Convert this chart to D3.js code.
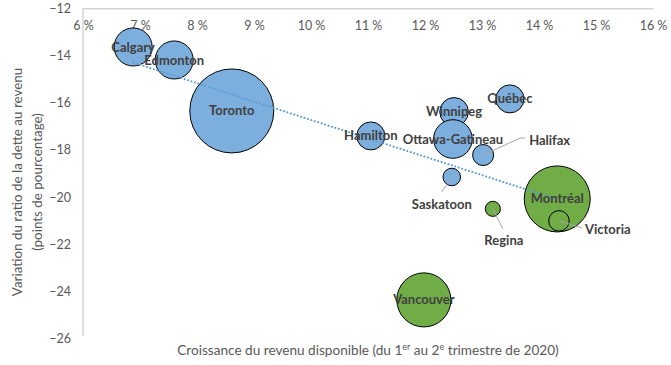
<!DOCTYPE html>
<html>
<head>
<meta charset="utf-8">
<script src="https://cdn.jsdelivr.net/npm/d3@7"></script>
<style>
  body { margin: 0; background: #fff; }
  text { font-family: Lato, "Open Sans", sans-serif; }
</style>
</head>
<body>
<div id="graphique"></div>
<script>
// données
var villes = ["Calgary", "Edmonton", "Toronto", "Hamilton", "Winnipeg", "Ottawa-Gatineau", "Québec",
    "Halifax", "Saskatoon", "Regina", "Montréal", "Victoria", "Vancouver"];
var croissanceRevenu = [6.88, 7.60, 8.61, 11.05, 12.51, 12.49, 13.49, 13.02, 12.47, 13.19, 14.32, 14.35, 11.98];
var variationRatio = [-13.64, -14.19, -16.35, -17.41, -16.39, -17.54, -15.84, -18.22, -19.15, -20.50, -20.08, -21.01, -24.36];
var taille = [1.27, 1.27, 6.2, 0.69, 0.72, 1.31, 0.69, 0.39, 0.27, 0.20, 3.83, 0.37, 2.57];
var groupe = ["bleu", "bleu", "bleu", "bleu", "bleu", "bleu", "bleu", "bleu", "bleu", "vert", "vert", "vert", "vert"];
var tendance = [{x: 6.88, y: -14.3}, {x: 14.32, y: -20.1}];
var ticksX = [6, 7, 8, 9, 10, 11, 12, 13, 14, 15, 16];
var ticksY = [-12, -14, -16, -18, -20, -22, -24, -26];

var couleurs = {bleu: "#7CAFDD", vert: "#70AD47"};

var width = 671, height = 365;

var svg = d3.select("#graphique")
    .append("svg")
    .attr("width", width)
    .attr("height", height);

var x = d3.scaleLinear().domain([6, 16]).range([83, 653]);
var y = d3.scaleLinear().domain([-12, -26]).range([8.3, 338.6]);
var r = d3.scaleSqrt().domain([0, 6.2]).range([0, 42]);

// axe des x (en haut, à y = -12)
var axeX = d3.axisTop(x).tickValues(ticksX).tickSize(0).tickPadding(0)
    .tickFormat(function (d) { return d + "\u00a0%"; });
var gX = svg.append("g")
    .attr("transform", "translate(0," + y(-12) + ")")
    .call(axeX);
gX.select(".domain").attr("stroke", "#BFBFBF");
gX.selectAll("text")
    .attr("y", 22)
    .attr("fill", "#595959")
    .attr("font-size", "12.5px")
    .attr("text-anchor", "middle");

// axe des y
var axeY = d3.axisLeft(y).tickValues(ticksY).tickSize(0).tickPadding(12)
    .tickFormat(d3.format("d"));
var gY = svg.append("g")
    .attr("transform", "translate(" + x(6) + ",0)")
    .call(axeY);
gY.select(".domain").attr("stroke", "#BFBFBF").attr("d", "M0," + y(-12) + "V" + (y(-26) - 3));
gY.selectAll("text")
    .attr("fill", "#595959")
    .attr("font-size", "12.5px");

// titres des axes
var titreX = svg.append("text")
    .attr("x", 368)
    .attr("y", 355)
    .attr("text-anchor", "middle")
    .attr("fill", "#595959")
    .attr("font-size", "13.6px");
titreX.append("tspan").text("Croissance du revenu disponible (du 1");
titreX.append("tspan").attr("baseline-shift", "super").attr("font-size", "9px").text("er");
titreX.append("tspan").text(" au 2");
titreX.append("tspan").attr("baseline-shift", "super").attr("font-size", "9px").text("e");
titreX.append("tspan").text(" trimestre de 2020)");

var titreY = svg.append("text")
    .attr("transform", "translate(0,182) rotate(-90)")
    .attr("text-anchor", "middle")
    .attr("fill", "#595959")
    .attr("font-size", "13.4px");
titreY.append("tspan").attr("x", 0).attr("y", 22).text("Variation du ratio de la dette au revenu");
titreY.append("tspan").attr("x", 0).attr("y", 42).text("(points de pourcentage)");

var donnees = villes.map(function (v, i) {
    return {ville: v, x: croissanceRevenu[i], y: variationRatio[i], taille: taille[i], groupe: groupe[i]};
});

// bulles
svg.append("g")
    .selectAll("circle")
    .data(donnees)
    .enter()
    .append("circle")
    .attr("cx", function (d) { return x(d.x); })
    .attr("cy", function (d) { return y(d.y); })
    .attr("r", function (d) { return r(d.taille); })
    .attr("fill", function (d) { return couleurs[d.groupe]; })
    .attr("stroke", "#000")
    .attr("stroke-width", 1);

// ligne de tendance
svg.append("path")
    .datum(tendance)
    .attr("d", d3.line()
        .x(function (d) { return x(d.x); })
        .y(function (d) { return y(d.y); }))
    .attr("fill", "none")
    .attr("stroke", "#5B9BD5")
    .attr("stroke-width", 2)
    .attr("stroke-dasharray", "0.1 3.5")
    .attr("stroke-linecap", "round");

// étiquettes déplacées avec ligne de rappel
var decalages = {
    "Halifax": {dx: 46, dy: -15, ancre: "start", rappel: [[37, -17], [42, -17]]},
    "Saskatoon": {dx: -10, dy: 27, ancre: "middle", rappel: [[-10, 15]]},
    "Regina": {dx: 11, dy: 32, ancre: "middle", rappel: [[10, 20]]},
    "Victoria": {dx: 26, dy: 9, ancre: "start", rappel: [[23, 7]]}
};

var etiquettes = svg.append("g");
donnees.forEach(function (d) {
    var cx = x(d.x), cy = y(d.y);
    var dec = decalages[d.ville] || {dx: 0, dy: 0, ancre: "middle"};
    if (dec.rappel) {
        var pts = [[cx, cy]].concat(dec.rappel.map(function (p) { return [cx + p[0], cy + p[1]]; }));
        etiquettes.append("path")
            .attr("d", d3.line()(pts))
            .attr("fill", "none")
            .attr("stroke", "#A6A6A6")
            .attr("stroke-width", 1);
    }
    etiquettes.append("text")
        .attr("x", cx + dec.dx)
        .attr("y", cy + dec.dy)
        .attr("dy", "0.35em")
        .attr("text-anchor", dec.ancre)
        .attr("fill", "#404040")
        .attr("font-weight", "bold")
        .attr("font-size", "13px")
        .text(d.ville);
});
</script>
</body>
</html>
